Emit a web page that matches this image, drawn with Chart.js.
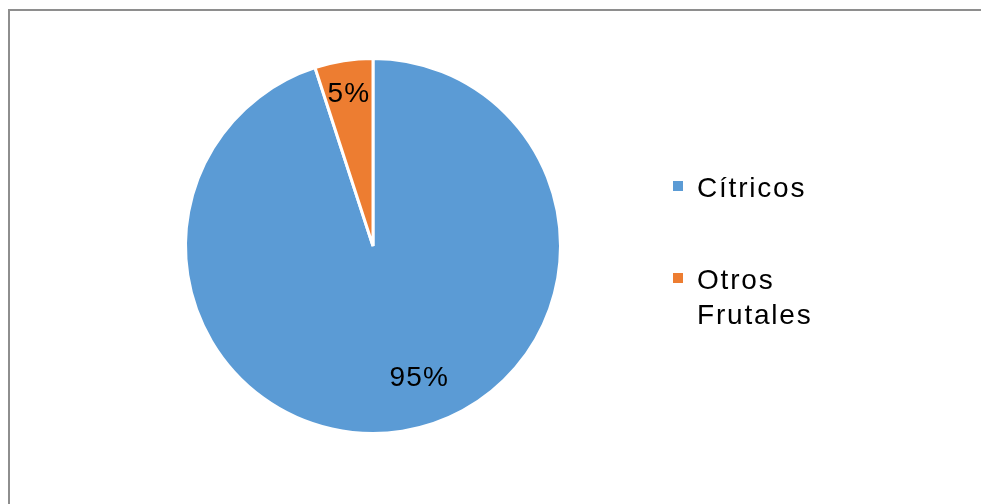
<!DOCTYPE html>
<html>
<head>
<meta charset="utf-8">
<script src="https://cdn.jsdelivr.net/npm/chart.js@4/dist/chart.umd.min.js"></script>
<style>
  html, body { margin: 0; padding: 0; background: #fff; }
  #wrap { position: relative; width: 981px; height: 504px; }
  #frame {
    position: absolute; left: 8px; top: 9px; right: -4px; bottom: -4px;
    border-left: 2px solid #8e8e8e; border-top: 2px solid #8e8e8e;
  }
  canvas { position: absolute; left: 0; top: 0; }
</style>
</head>
<body>
<div id="wrap">
  <div id="frame"></div>
  <canvas id="pie" width="981" height="504"></canvas>
</div>
<script>
var categories = ['Cítricos', 'Otros Frutales'];
var shares = [95, 5];
var colors = ['#5B9BD5', '#ED7D31'];

// percent labels inside the slices: fraction along the arc, fraction of radius
var labelSpots = [{ along: 0.47, out: 0.75 }, { along: 0.5, out: 0.82 }];

var FONT = '"Liberation Sans", Arial, sans-serif';

var sliceLabels = {
  id: 'sliceLabels',
  afterDatasetsDraw: function(chart) {
    var ctx = chart.ctx;
    var meta = chart.getDatasetMeta(0);
    var total = shares.reduce(function(a, b) { return a + b; }, 0);
    ctx.save();
    ctx.font = '28px ' + FONT;
    ctx.letterSpacing = '1.2px';
    ctx.fillStyle = '#000';
    ctx.textAlign = 'center';
    ctx.textBaseline = 'middle';
    meta.data.forEach(function(arc, i) {
      var p = arc.getProps(['x', 'y', 'startAngle', 'endAngle', 'outerRadius'], true);
      var a = p.startAngle + (p.endAngle - p.startAngle) * labelSpots[i].along;
      var r = p.outerRadius * labelSpots[i].out;
      var pct = Math.round(shares[i] / total * 100) + '%';
      ctx.fillText(pct, p.x + Math.cos(a) * r, p.y + Math.sin(a) * r);
    });
    ctx.restore();
  }
};

// legend on the right, long names wrapped onto two lines
var sideLegend = {
  id: 'sideLegend',
  afterDraw: function(chart) {
    var ctx = chart.ctx;
    var x = 673, rows = [181, 273];
    ctx.save();
    ctx.font = '28px ' + FONT;
    ctx.letterSpacing = '1.8px';
    ctx.textBaseline = 'alphabetic';
    ctx.textAlign = 'left';
    categories.forEach(function(name, i) {
      var top = rows[i];
      ctx.fillStyle = colors[i];
      ctx.fillRect(x, top, 10, 10);
      ctx.fillStyle = '#000';
      name.split(' ').forEach(function(word, j) {
        ctx.fillText(word, x + 24, top + 16 + j * 35);
      });
    });
    ctx.restore();
  }
};

new Chart(document.getElementById('pie').getContext('2d'), {
  type: 'pie',
  data: {
    labels: categories,
    datasets: [{
      data: shares,
      backgroundColor: colors,
      borderColor: '#ffffff',
      borderWidth: 3
    }]
  },
  options: {
    responsive: false,
    animation: false,
    layout: { padding: { left: 184, top: 57, right: 419, bottom: 69 } },
    plugins: {
      legend: { display: false },
      tooltip: { enabled: false }
    }
  },
  plugins: [sliceLabels, sideLegend]
});
</script>
</body>
</html>
